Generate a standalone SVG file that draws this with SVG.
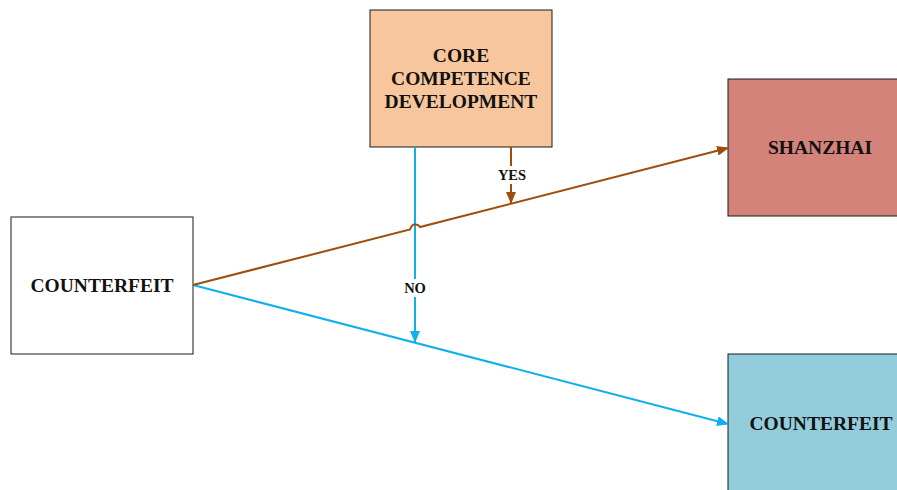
<svg xmlns="http://www.w3.org/2000/svg" width="897" height="490" viewBox="0 0 897 490">
<defs>
<style>
.box{stroke:#1a1a1a;stroke-width:1}
.t{font-family:"Liberation Serif",serif;font-weight:bold;font-size:19.5px;fill:#111;text-anchor:middle}
.l{font-family:"Liberation Serif",serif;font-weight:bold;font-size:14.5px;fill:#111;text-anchor:middle}
.brown{stroke:#9E4D0C;stroke-width:2;fill:none}
.blue{stroke:#0FB0EC;stroke-width:2;fill:none}
</style>
<marker id="ab" viewBox="0 0 12 10" refX="11" refY="5" markerWidth="12" markerHeight="10" markerUnits="userSpaceOnUse" orient="auto"><path d="M0,0 L12,5 L0,10 z" fill="#9E4D0C"/></marker>
<marker id="ac" viewBox="0 0 12 10" refX="11" refY="5" markerWidth="12" markerHeight="10" markerUnits="userSpaceOnUse" orient="auto"><path d="M0,0 L12,5 L0,10 z" fill="#0FB0EC"/></marker>
</defs>
<rect width="897" height="490" fill="#fff"/>
<g id="core"><rect class="box" x="370" y="10" width="182" height="137" fill="#F8C69C"/>
<text class="t" x="461" y="62">CORE</text><text class="t" x="461" y="85">COMPETENCE</text><text class="t" x="461" y="108">DEVELOPMENT</text></g>
<g id="shanzhai"><rect class="box" x="728" y="79" width="175" height="137" fill="#D4837B"/>
<text class="t" x="820" y="154">SHANZHAI</text></g>
<g id="counterfeit-left"><rect class="box" x="11" y="217" width="182" height="137" fill="#fff"/>
<text class="t" x="102" y="292">COUNTERFEIT</text></g>
<g id="counterfeit-right"><rect class="box" x="728" y="354" width="175" height="140" fill="#93CDDB"/>
<text class="t" x="821" y="430">COUNTERFEIT</text></g>
<g id="connectors">
<path class="blue" d="M193,285 L728,424" marker-end="url(#ac)"/>
<path class="blue" d="M415,147 L415,342" marker-end="url(#ac)"/>
<path class="brown" d="M193,285 L410,229.5 Q412,224 415,224.5 Q418,224 420,227 L728,148" marker-end="url(#ab)"/>
<path class="brown" d="M511,147 L511,203" marker-end="url(#ab)"/>
<rect x="495" y="166" width="33" height="18" fill="#fff"/>
<text class="l" x="512" y="180">YES</text>
<rect x="402" y="279" width="26" height="18" fill="#fff"/>
<text class="l" x="415" y="293">NO</text>
</g>
</svg>
